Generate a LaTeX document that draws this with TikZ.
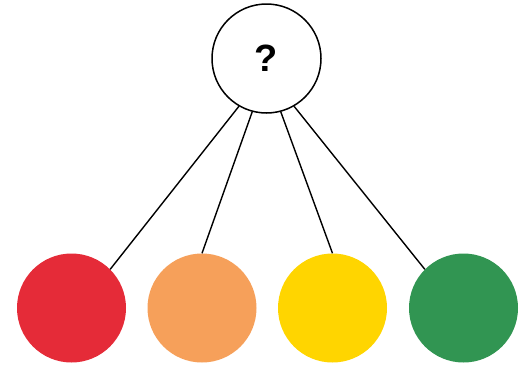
\documentclass[tikz,border=0pt]{standalone}
\usepackage{fontspec}
\setmainfont{Liberation Sans}
\usepackage{tikz}
\definecolor{cred}{RGB}{229,43,56}
\definecolor{corange}{RGB}{246,160,90}
\definecolor{cyellow}{RGB}{255,213,0}
\definecolor{cgreen}{RGB}{49,149,82}
\tikzstyle{every node}=[circle, inner sep=0pt, minimum size=109pt]
\tikzstyle{every picture}=[x=1pt,y=-1pt]
\tikzstyle{choice}=[draw, line width=1.5pt, fill=white,
                    font=\fontsize{38}{38}\selectfont\bfseries]
\tikzstyle{dot}=[draw=none]

\begin{document}
\begin{tikzpicture}
      \useasboundingbox (0,0) rectangle (520,367);
      \node[choice] (ask) at (266.5,58.5) {?};
      \node[dot, fill=cred] (red) at (71.5,308) {};
      \node[dot, fill=corange] (orange) at (202,308) {};
      \node[dot, fill=cyellow] (yellow) at (332.5,308) {};
      \node[dot, fill=cgreen] (green) at (463.5,308) {};
	\draw[line width=1.4pt] (ask.-120)--(red.45);
	\draw[line width=1.4pt] (ask.-105)--(orange.90);
	\draw[line width=1.4pt] (ask.-75)--(yellow.90);
	\draw[line width=1.4pt] (ask.-60)--(green.135);
    \end{tikzpicture}
\end{document}
